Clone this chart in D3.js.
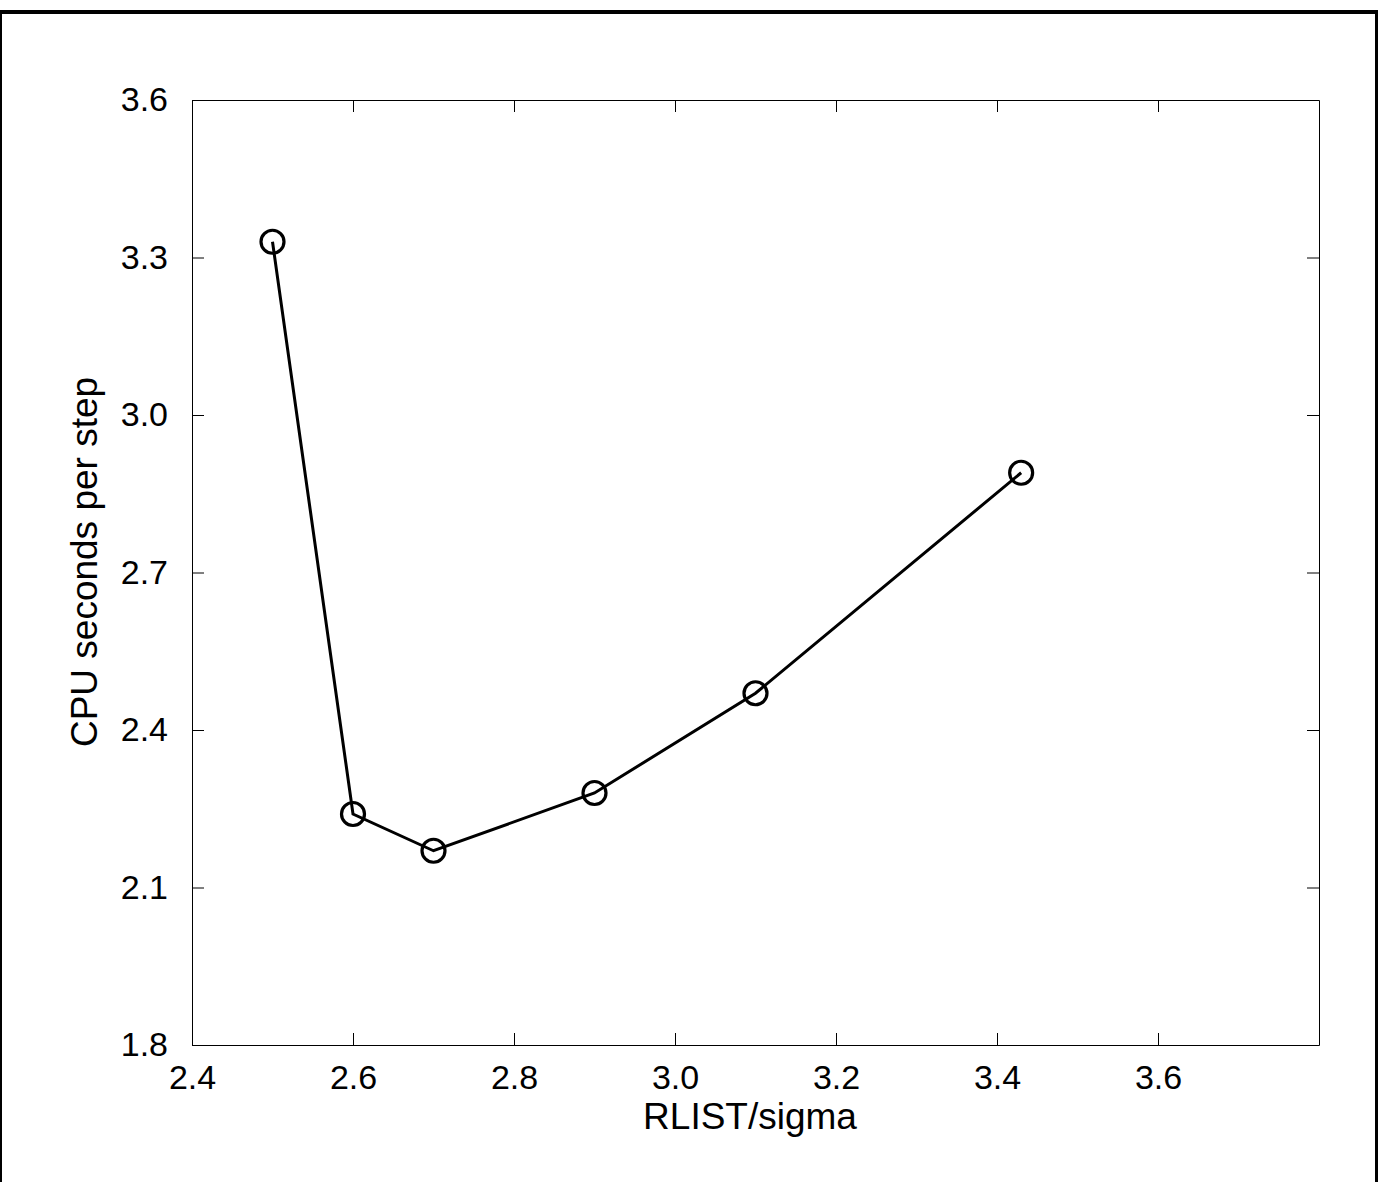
<!DOCTYPE html>
<html>
<head>
<meta charset="utf-8">
<script src="https://cdn.jsdelivr.net/npm/d3@7"></script>
<style>
  body { margin: 0; background: #fff; }
  text { font-family: "Liberation Sans", Arial, sans-serif; }
</style>
</head>
<body>
<script>
const rlist = [2.5, 2.6, 2.7, 2.9, 3.1, 3.43];
const cpu = [3.33, 2.24, 2.17, 2.28, 2.47, 2.89];
const xTicks = [2.4, 2.6, 2.8, 3.0, 3.2, 3.4, 3.6];
const yTicks = [1.8, 2.1, 2.4, 2.7, 3.0, 3.3, 3.6];

const width = 1378;
const height = 1182;
const plotLeft = 192, plotRight = 1319, plotTop = 100, plotBottom = 1045;
const tickLen = 12;

const svg = d3.select('body').append('svg')
    .attr("width", width).attr("height", height);

// outer frame
svg.append('rect')
    .attr("x", 0).attr("y", 12)
    .attr("width", 1377).attr("height", 1300)
    .attr("fill", "none").attr("stroke", "#000").attr("stroke-width", 4);

const xScale = d3.scaleLinear().domain([2.4, 3.8]).range([plotLeft, plotRight]);
const yScale = d3.scaleLinear().domain([1.8, 3.6]).range([plotBottom, plotTop]);

const fmt = d3.format(".1f");

// bottom axis, ticks pointing inward
svg.append('g').attr("transform", "translate(0," + plotBottom + ")")
    .call(d3.axisBottom(xScale).tickValues(xTicks).tickFormat(fmt)
        .tickSizeInner(-tickLen).tickSizeOuter(0).tickPadding(20))
    .call(g => g.selectAll("text").attr("font-size", 34).attr("fill", "#000"))
    .call(g => g.select(".domain").attr("stroke", "#000"));

// top axis
svg.append('g').attr("transform", "translate(0," + plotTop + ")")
    .call(d3.axisTop(xScale).tickValues(xTicks).tickFormat("")
        .tickSizeInner(-tickLen).tickSizeOuter(0))
    .call(g => g.select(".domain").attr("stroke", "#000"));

// left axis
svg.append('g').attr("transform", "translate(" + plotLeft + ",0)")
    .call(d3.axisLeft(yScale).tickValues(yTicks).tickFormat(fmt)
        .tickSizeInner(-tickLen).tickSizeOuter(0).tickPadding(24))
    .call(g => g.selectAll("text").attr("font-size", 34).attr("fill", "#000"))
    .call(g => g.select(".domain").attr("stroke", "#000"));

// right axis
svg.append('g').attr("transform", "translate(" + plotRight + ",0)")
    .call(d3.axisRight(yScale).tickValues(yTicks).tickFormat("")
        .tickSizeInner(-tickLen).tickSizeOuter(0))
    .call(g => g.select(".domain").attr("stroke", "#000"));

const pts = rlist.map((x, i) => [x, cpu[i]]);

svg.append('path').datum(pts)
    .attr("d", d3.line().x(d => xScale(d[0])).y(d => yScale(d[1])))
    .attr("fill", "none").attr("stroke", "#000").attr("stroke-width", 3);

svg.selectAll('circle.pt').data(pts).enter().append('circle')
    .attr("class", "pt")
    .attr("cx", d => xScale(d[0]))
    .attr("cy", d => yScale(d[1]))
    .attr("r", 11.5)
    .attr("fill", "none").attr("stroke", "#000").attr("stroke-width", 3.2);

svg.append('text')
    .attr("x", 750).attr("y", 1129)
    .attr("text-anchor", "middle").attr("font-size", 37)
    .text("RLIST/sigma");

svg.append('text')
    .attr("transform", "translate(97,562) rotate(-90)")
    .attr("text-anchor", "middle").attr("font-size", 37)
    .text("CPU seconds per step");
</script>
</body>
</html>
